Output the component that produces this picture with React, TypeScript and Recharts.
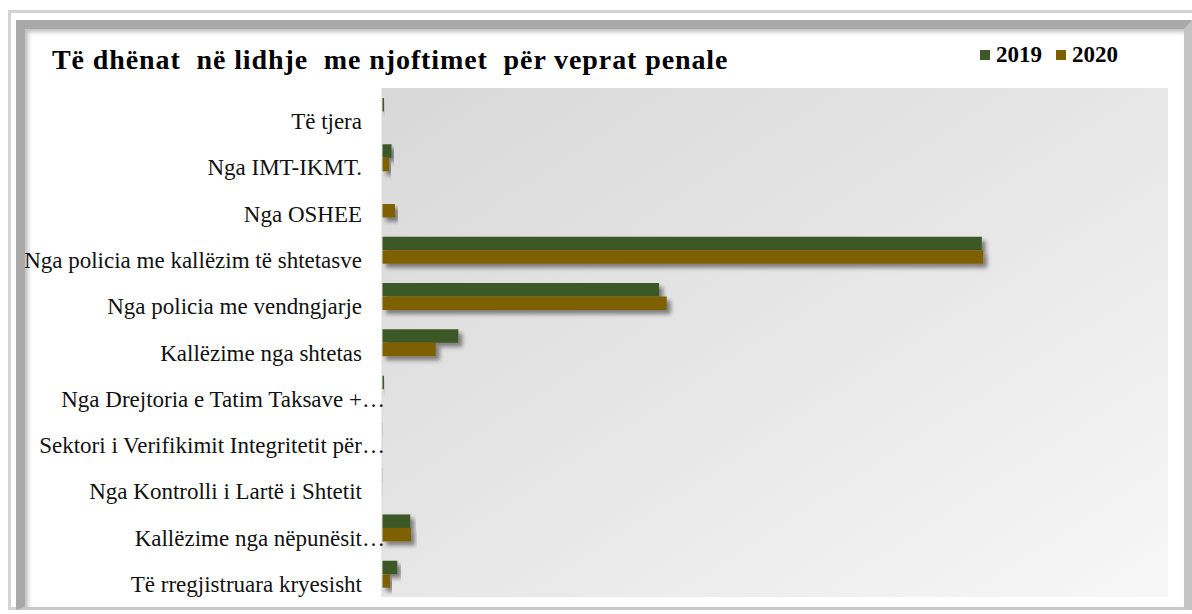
import React from 'react'
import { BarChart, Bar, XAxis, YAxis, CartesianGrid, Rectangle } from 'recharts'

const categories = [
  'Të tjera',
  'Nga IMT-IKMT.',
  'Nga OSHEE',
  'Nga policia me kallëzim të shtetasve',
  'Nga policia me vendngjarje',
  'Kallëzime nga shtetas',
  'Nga Drejtoria e Tatim Taksave +…',
  'Sektori i Verifikimit Integritetit për…',
  'Nga Kontrolli i Lartë i Shtetit',
  'Kallëzime nga nëpunësit…',
  'Të rregjistruara kryesisht',
]

const values2019 = [20, 97, 0, 6105, 2820, 777, 20, 3, 3, 288, 156]
const values2020 = [0, 71, 132, 6120, 2898, 547, 0, 2, 2, 295, 81]

const seriesNames = ['2019', '2020']
const seriesColors = ['#3b5826', '#7f6000']

const data = categories.map((name, i) => ({
  name,
  v2019: values2019[i],
  v2020: values2020[i],
}))

const serif = '"Liberation Serif", "Times New Roman", serif'

const CategoryTick = (props: any) => {
  const { x, y, payload } = props
  const label: string = payload.value
  const cut = label.endsWith('…')
  const main = cut ? label.slice(0, -1) : label
  return (
    <g transform={`translate(${x},${y})`}>
      <text x={0} y={18} textAnchor="end" fontFamily={serif} fontSize={23} fill="#111">
        {main}
      </text>
      {cut && (
        <text x={0} y={18} textAnchor="start" fontFamily={serif} fontSize={23} fill="#111">
          …
        </text>
      )}
    </g>
  )
}

const ShadowBar = (props: any) => <Rectangle {...props} filter="url(#barShadow)" />

export default function App() {
  return (
    <div style={{ position: 'absolute', left: 0, top: 0, width: 1192, height: 614, background: '#fff', overflow: 'hidden' }}>
      {/* frame */}
      <div style={{ position: 'absolute', left: 8, top: 10, width: 1190, height: 600, border: '3px solid #d4d4d4', boxSizing: 'border-box' }} />
      <div
        style={{
          position: 'absolute',
          left: 16,
          top: 20,
          width: 1176,
          height: 590,
          borderLeft: '9px solid #a9a9a9',
          borderTop: '9px solid #a9a9a9',
          borderRight: '8px solid #c4c4c4',
          borderBottom: '3px solid #c8c8c8',
          boxSizing: 'border-box',
          boxShadow: 'inset 3px 3px 4px rgba(0,0,0,0.25)',
        }}
      />
      <div
        style={{
          position: 'absolute',
          left: 52,
          top: 45,
          fontFamily: serif,
          fontWeight: 'bold',
          fontSize: 28,
          letterSpacing: 0.9,
          whiteSpace: 'pre',
          color: '#000',
          lineHeight: '30px',
        }}
      >
        {'Të dhënat  në lidhje  me njoftimet  për veprat penale'}
      </div>
      <div style={{ position: 'absolute', left: 980, top: 42, display: 'flex', alignItems: 'center', fontFamily: serif, fontWeight: 'bold', fontSize: 23, lineHeight: '26px' }}>
        {seriesNames.map((n, i) => (
          <span key={n} style={{ display: 'flex', alignItems: 'center', marginRight: 14 }}>
            <span style={{ width: 10, height: 10, background: seriesColors[i], display: 'inline-block', marginRight: 6 }} />
            {n}
          </span>
        ))}
      </div>
      <div style={{ position: 'absolute', left: 0, top: 0 }}>
        <BarChart
          width={1192}
          height={614}
          data={data}
          layout="vertical"
          margin={{ top: 88, right: 24, bottom: 17, left: 0 }}
          barGap={0}
          barSize={13.5}
        >
          <defs>
            <linearGradient id="plotBg" x1="0" y1="0" x2="1" y2="1">
              <stop offset="0%" stopColor="#d8d8d8" />
              <stop offset="55%" stopColor="#e8e8e8" />
              <stop offset="100%" stopColor="#f7f7f7" />
            </linearGradient>
            <filter id="barShadow" x="-10%" y="-30%" width="130%" height="200%">
              <feDropShadow dx={4} dy={4} stdDeviation={2} floodColor="#000" floodOpacity={0.45} />
            </filter>
          </defs>
          <CartesianGrid horizontal={false} vertical={false} fill="url(#plotBg)" />
          <XAxis type="number" domain={[0, 8000]} hide />
          <YAxis
            type="category"
            dataKey="name"
            width={382}
            tickLine={false}
            tickSize={0}
            tickMargin={20}
            axisLine={{ stroke: '#d9d9d9' }}
            tick={<CategoryTick />}
            interval={0}
          />
          <Bar dataKey="v2019" name={seriesNames[0]} fill={seriesColors[0]} shape={ShadowBar} isAnimationActive={false} />
          <Bar dataKey="v2020" name={seriesNames[1]} fill={seriesColors[1]} shape={ShadowBar} isAnimationActive={false} />
        </BarChart>
      </div>
    </div>
  )
}
